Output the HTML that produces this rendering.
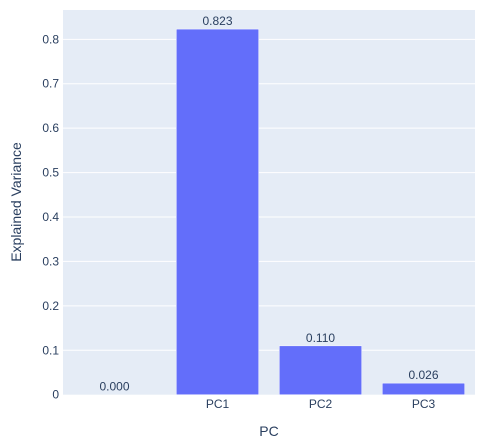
<!DOCTYPE html>
<html><head><meta charset="utf-8"><style>
html,body{margin:0;padding:0;background:#fff;}
svg{display:block;font-family:"Liberation Sans",Arial,sans-serif;}
</style></head><body>
<svg id="chart" width="484" height="444">
<rect x="63" y="10" width="412" height="384.7" fill="#e5ecf6"/>
<g id="grid"></g><g id="bars"></g><g id="labels"></g>
<text x="269" y="436" text-anchor="middle" font-size="14" fill="#2a3f5f">PC</text>
<text transform="translate(21,202) rotate(-90)" text-anchor="middle" font-size="14" fill="#2a3f5f">Explained Variance</text>
</svg>
<script>
const categories = ["", "PC1", "PC2", "PC3"];
const values = [0.000, 0.823, 0.110, 0.026];
const valueLabels = ["0.000", "0.823", "0.110", "0.026"];
const yTicks = [0, 0.1, 0.2, 0.3, 0.4, 0.5, 0.6, 0.7, 0.8];
const yTickLabels = ["0", "0.1", "0.2", "0.3", "0.4", "0.5", "0.6", "0.7", "0.8"];
const NS = "http://www.w3.org/2000/svg";
const L = 63, R = 475, T = 10, B = 394.7, yMax = 0.866;
const y = v => B - v / yMax * (B - T);
const slot = (R - L) / categories.length;
const xc = i => L + slot * (i + 0.5);
const grid = document.getElementById('grid'), bars = document.getElementById('bars'), labels = document.getElementById('labels');
function mk(tag, attrs, parent) { const e = document.createElementNS(NS, tag); for (const k in attrs) e.setAttribute(k, attrs[k]); parent.appendChild(e); return e; }
yTicks.forEach((t, i) => {
  if (t !== 0) {
    const g = mk('line', {x1: L, x2: R, y1: y(t), y2: y(t), stroke: '#fff', 'stroke-width': 1}, grid);
    
    
  }
  const tx = mk('text', {x: L - 4, y: y(t) + 4, 'text-anchor': 'end', 'font-size': 12, fill: '#2a3f5f'}, labels);
  tx.textContent = yTickLabels[i];
  
  
});
categories.forEach((c, i) => {
  const bw = slot * 0.8;
  const r = mk('rect', {x: xc(i) - bw / 2, y: y(values[i]), width: bw, height: Math.max(0, B - y(values[i])), fill: '#636efa', stroke: '#fff', 'stroke-width': 0.5}, bars);
  
  
  const vl = mk('text', {x: xc(i), y: y(values[i]) - 4, 'text-anchor': 'middle', 'font-size': 12, fill: '#2a3f5f'}, labels);
  vl.textContent = valueLabels[i];
  
  
  const xl = mk('text', {x: xc(i), y: 408, 'text-anchor': 'middle', 'font-size': 12, fill: '#2a3f5f'}, labels);
  xl.textContent = c;
  
  
});
</script>
</body></html>
